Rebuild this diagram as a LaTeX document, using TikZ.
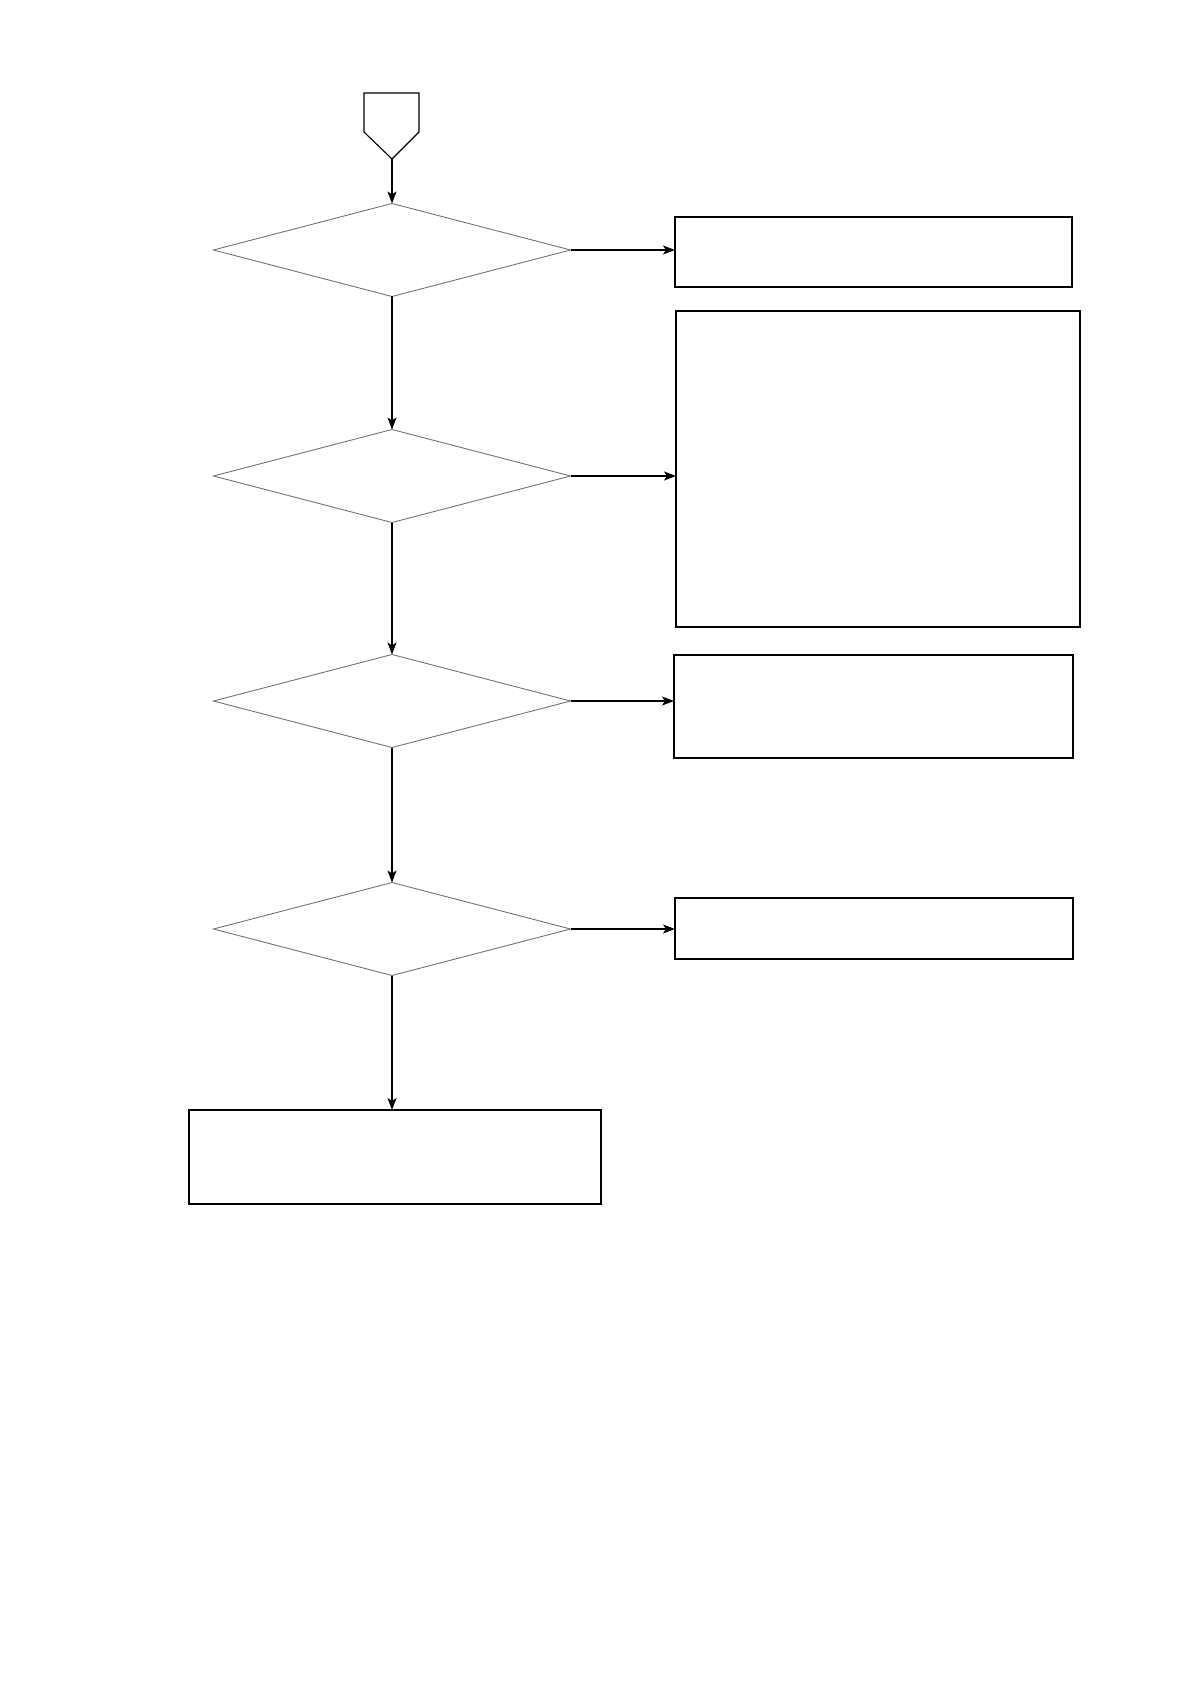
\documentclass[tikz,border=0pt]{standalone}
\usepackage{tikz}
\usetikzlibrary{arrows.meta}
\usetikzlibrary{shapes.geometric}
\usepackage{xcolor}
\definecolor{gray}{rgb}{0.45,0.45,0.45}

\begin{document}
\begin{tikzpicture}[x=0.5pt,y=-0.5pt,
        decision/.style={diamond,draw=gray,line width=0.45pt,inner sep=0pt,outer sep=0pt,
            minimum width=178.5pt,minimum height=46.5pt},
        process/.style={rectangle,draw,line width=0.55pt,inner sep=0pt,outer sep=0pt},
        flow/.style={draw,line width=0.55pt,-{Stealth[length=6pt,width=4.5pt,inset=1.5pt]}}]
        % page
        \useasboundingbox (0,0) rectangle (1191,1684);
        % start
        \draw[line width=0.55pt] (392,159) -- (364,132) -- (364,93) -- (419,93) -- (419,132) -- cycle;
        \coordinate (start) at (392,159);
        % decisions
        \node[decision] (d1) at (392,250) {};
        \node[decision] (d2) at (392,476) {};
        \node[decision] (d3) at (392,701) {};
        \node[decision] (d4) at (392,929) {};
        % boxes
        \node[process,minimum width=198.5pt,minimum height=35pt] (b1) at (873.5,252) {};
        \node[process,minimum width=202pt,minimum height=158pt] (b2) at (878,469) {};
        \node[process,minimum width=199.5pt,minimum height=51.5pt] (b3) at (873.5,706.5) {};
        \node[process,minimum width=199pt,minimum height=30.5pt] (b4) at (874,928.5) {};
        \node[process,minimum width=206pt,minimum height=47pt] (fin) at (395,1157) {};
        % arrows down
        \draw[flow] (start) -- (d1.north);
        \draw[flow] (d1.south) -- (d2.north);
        \draw[flow] (d2.south) -- (d3.north);
        \draw[flow] (d3.south) -- (d4.north);
        \draw[flow] (d4.south) -- (d4.south |- fin.north);
        % arrows right
        \draw[flow] (d1.east) -- (d1.east -| b1.west);
        \draw[flow] (d2.east) -- (d2.east -| b2.west);
        \draw[flow] (d3.east) -- (d3.east -| b3.west);
        \draw[flow] (d4.east) -- (d4.east -| b4.west);
    \end{tikzpicture}
\end{document}
